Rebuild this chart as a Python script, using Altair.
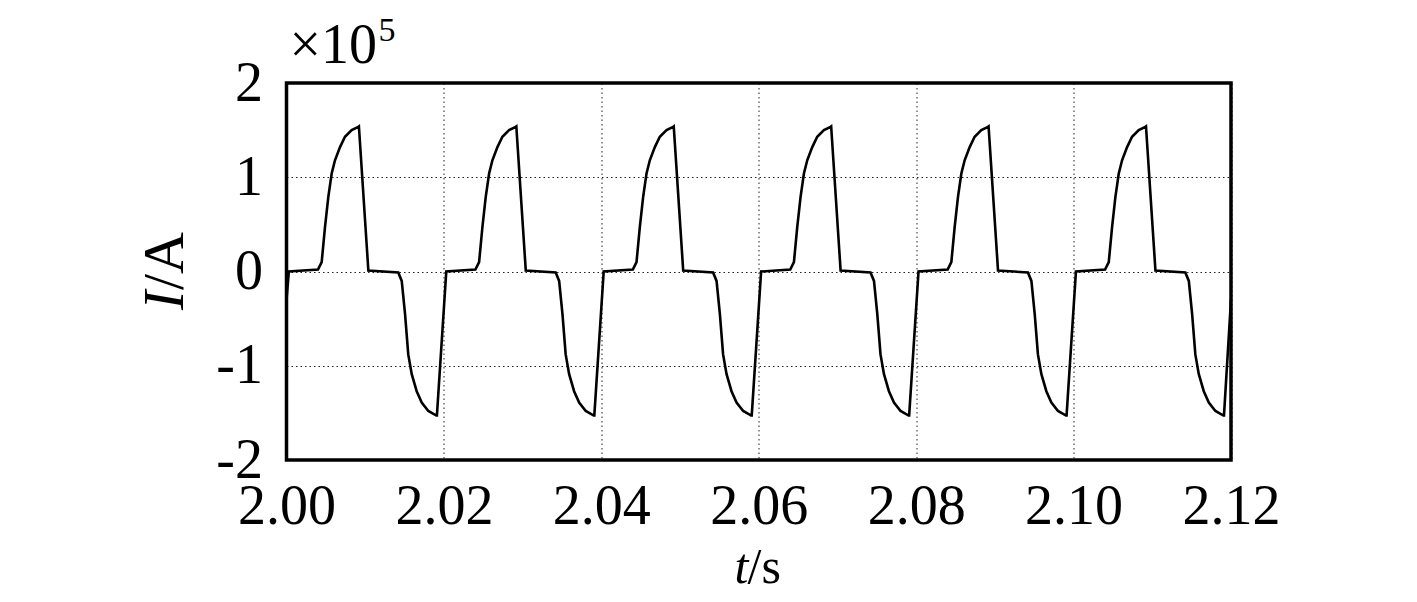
import altair as alt
import pandas as pd

# ---- data (current in units of 1e5 A) ----
period_starts = [2.00, 2.02, 2.04, 2.06, 2.08, 2.10]
# one cycle: time offset within the period (s) and current value
cycle_dt = [0.0003, 0.0040, 0.00447, 0.00489, 0.00531, 0.00574, 0.00616, 0.00680,
            0.00743, 0.00828, 0.00912, 0.0092, 0.0104,
            0.0142, 0.01464, 0.01506, 0.01547, 0.01591, 0.01654, 0.01718,
            0.01802, 0.01908, 0.0191]
cycle_val = [0.00, 0.02, 0.10, 0.47, 0.79, 1.04, 1.18, 1.32,
             1.43, 1.50, 1.535, 1.54, 0.01,
             -0.01, -0.10, -0.45, -0.88, -1.09, -1.27, -1.39,
             -1.48, -1.53, -1.54]
start_point = (2.000, -0.30)
end_point = (2.120, -0.30)

x_ticks = [2.00, 2.02, 2.04, 2.06, 2.08, 2.10, 2.12]
y_ticks = [-2, -1, 0, 1, 2]

rows = [{"t": start_point[0], "i": start_point[1]}]
for p in period_starts:
    for dt, v in zip(cycle_dt, cycle_val):
        rows.append({"t": p + dt, "i": v})
rows.append({"t": end_point[0], "i": end_point[1]})
df = pd.DataFrame(rows)

FONT = "Liberation Serif"
W, H = 944.5, 377

line = alt.Chart(df).mark_line(color="black", strokeWidth=2.6, clip=True).encode(
    x=alt.X("t:Q",
            scale=alt.Scale(domain=[2.0, 2.12], nice=False, zero=False),
            axis=alt.Axis(values=x_ticks, format=".2f", title=None,
                          labelPadding=19, labelFontSize=56, labelFont=FONT,
                          labelColor="black", labelFlush=False)),
    y=alt.Y("i:Q",
            scale=alt.Scale(domain=[-2, 2], nice=False),
            axis=alt.Axis(values=y_ticks, title=None,
                          labelExpr="datum.value < 0 ? '-' + abs(datum.value) : '' + datum.value",
                          labelPadding=24, labelFontSize=56, labelFont=FONT,
                          labelColor="black", labelFlush=False)),
)

frame = alt.Chart(pd.DataFrame({"k": [0]})).mark_rect(
    fill=None, fillOpacity=0, stroke="black", strokeWidth=3.5
).encode(x=alt.value(0), x2=alt.value(W), y=alt.value(0), y2=alt.value(H))


def txt(s, x, y, size, italic=False, angle=0):
    kw = dict(text=s, font=FONT, fontSize=size, color="black",
              align="left", baseline="alphabetic")
    if italic:
        kw["fontStyle"] = "italic"
    if angle:
        kw["angle"] = angle
    return alt.Chart(pd.DataFrame({"k": [0]})).mark_text(**kw).encode(
        x=alt.value(x), y=alt.value(y))


labels = [
    txt("t", 448, 500, 50, italic=True),
    txt("/s", 461, 500, 50),
    txt("I", -103.5, 227, 58, italic=True, angle=270),
    txt("/A", -103.5, 207, 58, angle=270),
    txt("×10", 3, -20, 56),
    txt("5", 92, -42, 34),
]

chart = alt.layer(line, frame, *labels).properties(
    width=W, height=H,
    padding={"left": 278.5, "top": 75, "right": 178, "bottom": 134},
    autosize=alt.AutoSizeParams(type="none"),
    background="white",
).configure_view(
    stroke=None,
).configure_axis(
    domain=False, ticks=False, grid=True,
    gridDash=[1.5, 3], gridColor="#222", gridWidth=1,
)

chart.save("out.html", embed_options={"renderer": "svg", "actions": False})
